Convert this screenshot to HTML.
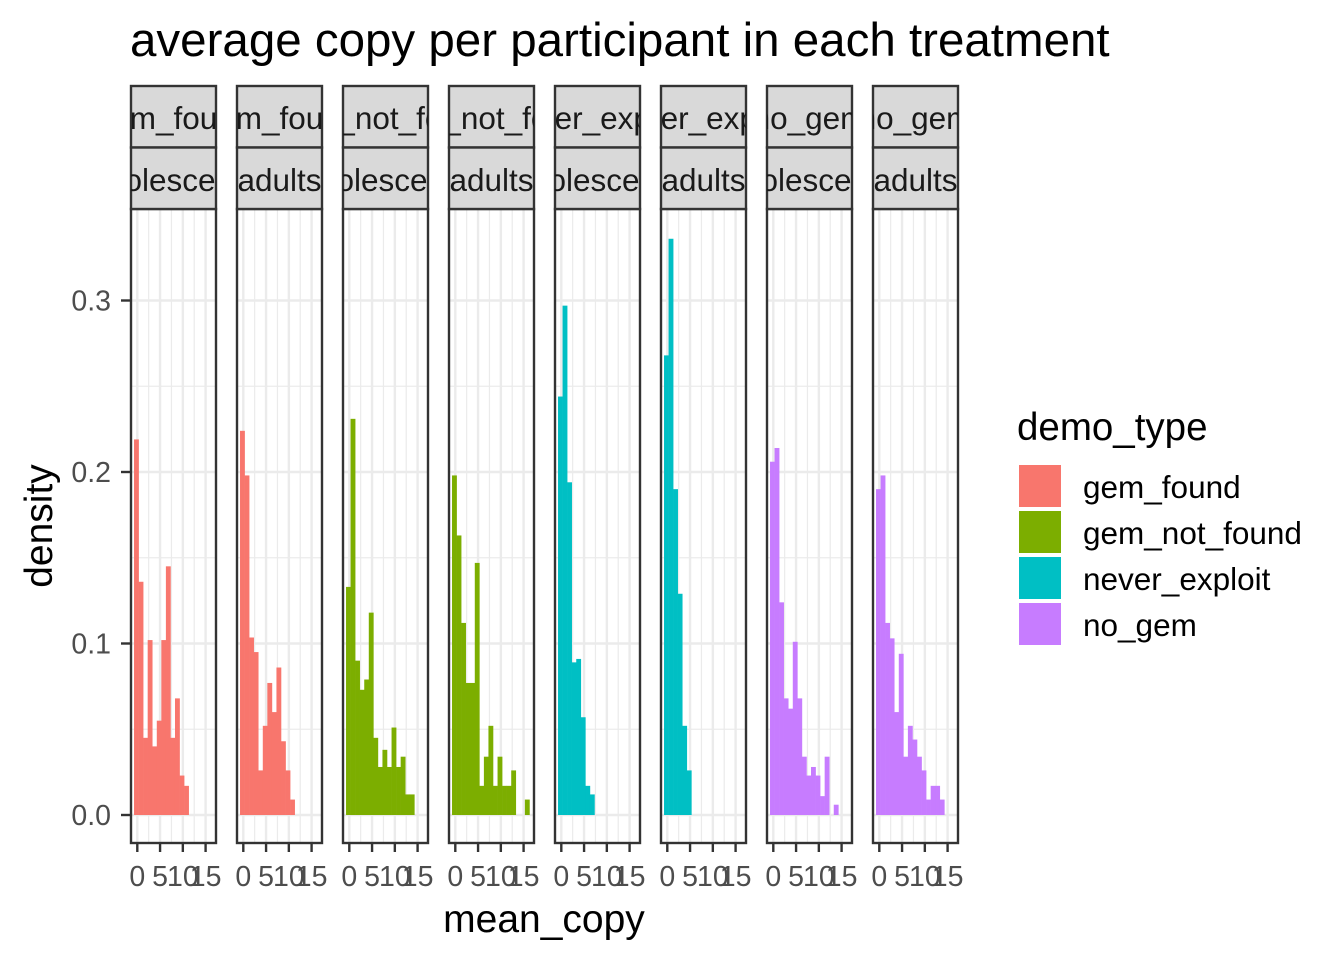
<!DOCTYPE html>
<html><head><meta charset="utf-8"><style>
html,body{margin:0;padding:0;background:#fff;}
svg{display:block;font-family:"Liberation Sans",sans-serif;}
</style></head><body>
<svg id="chart" width="1344" height="960" viewBox="0 0 1344 960" xmlns="http://www.w3.org/2000/svg">
<text x="130" y="56" font-size="47.5" fill="#000">average copy per participant in each treatment</text>
<text transform="translate(52,526) rotate(-90)" text-anchor="middle" font-size="39" fill="#000">density</text>
<text x="544" y="932" text-anchor="middle" font-size="39" fill="#000">mean_copy</text>
<g id="panels"></g>
<g id="yaxis"></g>
<g id="legend">
<text x="1017" y="440" font-size="38.5" fill="#000">demo_type</text>
</g>
</svg>
<script>
const groups = ["gem_found","gem_not_found","never_exploit","no_gem"];
const colors = ["#F8766D","#7CAE00","#00BFC4","#C77CFF"];
const ages = ["adolescents","adults"];
const yTicks = [0,0.1,0.2,0.3];
const yTickLabels = ["0.0","0.1","0.2","0.3"];
const xTicks = [0,5,10,15];
const xTickLabels = ["0","5","10","15"];
const binStart = -0.72;
const binWidth = 1.0;
const gemFoundAdol = [0.219,0.136,0.045,0.102,0.040,0.055,0.102,0.145,0.045,0.068,0.023,0.017];
const gemFoundAdult = [0.224,0.198,0.1035,0.095,0.026,0.052,0.077,0.060,0.086,0.043,0.026,0.009];
const gemNotFoundAdol = [0.133,0.231,0.090,0.073,0.079,0.118,0.045,0.028,0.038,0.028,0.051,0.028,0.034,0.012,0.012];
const gemNotFoundAdult = [0.198,0.163,0.112,0.077,0.077,0.147,0.017,0.034,0.052,0.017,0.034,0.017,0.017,0.026,0,0,0.009];
const neverAdol = [0.244,0.297,0.194,0.089,0.091,0.057,0.017,0.012];
const neverAdult = [0.268,0.336,0.190,0.129,0.052,0.026];
const noGemAdol = [0.206,0.214,0.124,0.068,0.062,0.101,0.068,0.034,0.023,0.028,0.023,0.011,0.034,0,0.006];
const noGemAdult = [0.190,0.198,0.112,0.103,0.060,0.094,0.034,0.052,0.044,0.034,0.026,0.009,0.017,0.017,0.009];
const panelSeries = [gemFoundAdol,gemFoundAdult,gemNotFoundAdol,gemNotFoundAdult,neverAdol,neverAdult,noGemAdol,noGemAdult];

const NS="http://www.w3.org/2000/svg";
function mk(tag,attrs,parent){const e=document.createElementNS(NS,tag);for(const k in attrs)e.setAttribute(k,attrs[k]);parent.appendChild(e);return e;}
const PW=85, PTOP=209, PBOT=843, STRIP1=86, STRIP2=147.5;
function y(v){return 815 - v*1715;}
function x(v,left){return left+6.3+v*4.553;}
const panelsG=document.getElementById('panels');
for(let p=0;p<8;p++){
  const left=131+p*106;
  const g=mk('g',{},panelsG);
  
  
  mk('rect',{x:left,y:PTOP,width:PW,height:PBOT-PTOP,fill:'#fff'},g);
  [0.05,0.15,0.25].forEach(v=>mk('line',{x1:left,x2:left+PW,y1:y(v),y2:y(v),stroke:'#ebebeb','stroke-width':1.2},g));
  [2.5,7.5,12.5].forEach(v=>mk('line',{x1:x(v,left),x2:x(v,left),y1:PTOP,y2:PBOT,stroke:'#ebebeb','stroke-width':1.2},g));
  yTicks.forEach(v=>mk('line',{x1:left,x2:left+PW,y1:y(v),y2:y(v),stroke:'#ebebeb','stroke-width':2.4},g));
  xTicks.forEach(v=>mk('line',{x1:x(v,left),x2:x(v,left),y1:PTOP,y2:PBOT,stroke:'#ebebeb','stroke-width':2.4},g));
  const data=panelSeries[p];
  data.forEach((d,i)=>{
    if(d<=0) return;
    const x0=x(binStart+i*binWidth,left), x1=x(binStart+(i+1)*binWidth,left);
    const r=mk('rect',{x:x0,y:y(d),width:x1-x0+0.3,height:y(0)-y(d),fill:colors[p>>1]},g);
    
    
  });
  mk('rect',{x:left,y:PTOP,width:PW,height:PBOT-PTOP,fill:'none',stroke:'#333','stroke-width':2.4},g);
  const cid='clip'+p;
  const cp=mk('clipPath',{id:cid},g);
  mk('rect',{x:left,y:STRIP1,width:PW,height:PTOP-STRIP1},cp);
  const s1=mk('rect',{x:left,y:STRIP1,width:PW,height:STRIP2-STRIP1,fill:'#d9d9d9',stroke:'#333','stroke-width':2.4},g);
  
  
  const s2=mk('rect',{x:left,y:STRIP2,width:PW,height:PTOP-STRIP2,fill:'#d9d9d9',stroke:'#333','stroke-width':2.4},g);
  
  
  const t1=mk('text',{x:left+PW/2,y:129,'text-anchor':'middle','font-size':31.5,fill:'#1a1a1a','clip-path':'url(#'+cid+')'},g);
  t1.textContent=groups[p>>1];
  
  
  const t2=mk('text',{x:left+PW/2,y:191,'text-anchor':'middle','font-size':31.5,fill:'#1a1a1a','clip-path':'url(#'+cid+')'},g);
  t2.textContent=ages[p%2];
  
  
  xTicks.forEach((v,i)=>{
    mk('line',{x1:x(v,left),x2:x(v,left),y1:PBOT,y2:PBOT+9,stroke:'#333','stroke-width':2.4},g);
    const t=mk('text',{x:x(v,left),y:886,'text-anchor':'middle','font-size':28.5,fill:'#4d4d4d'},g);
    t.textContent=xTickLabels[i];
    
    
  });
}
const ya=document.getElementById('yaxis');
yTicks.forEach((v,i)=>{
  mk('line',{x1:121,x2:131,y1:y(v),y2:y(v),stroke:'#333','stroke-width':2.4},ya);
  const t=mk('text',{x:111,y:y(v)+10,'text-anchor':'end','font-size':28.5,fill:'#4d4d4d'},ya);
  t.textContent=yTickLabels[i];
  
  
});
const lg=document.getElementById('legend');
groups.forEach((gname,i)=>{
  const r=mk('rect',{x:1019,y:465+i*46,width:42,height:42,fill:colors[i]},lg);
  
  
  const t=mk('text',{x:1083,y:498+i*46,'font-size':31.5,fill:'#000'},lg);
  t.textContent=gname;
  
  
});
</script>
</body></html>
